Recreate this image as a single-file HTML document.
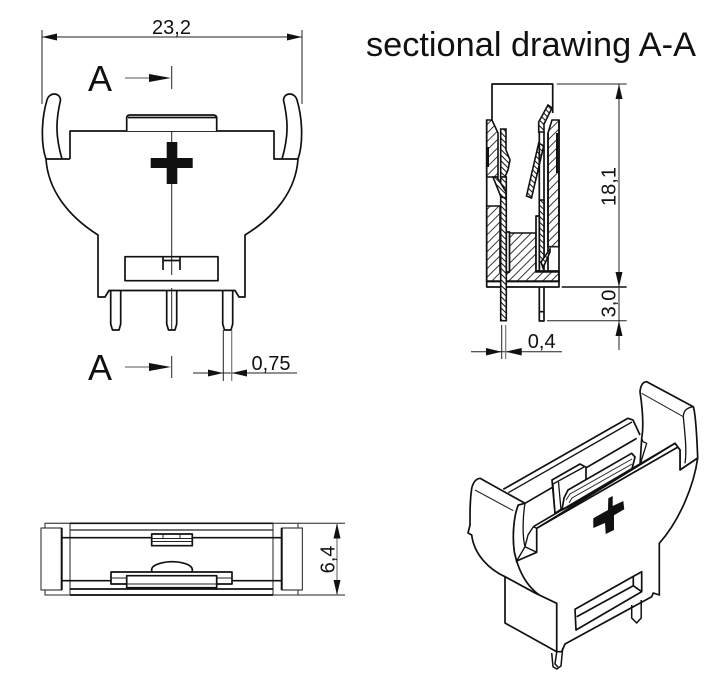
<!DOCTYPE html>
<html><head><meta charset="utf-8"><style>
html,body{margin:0;padding:0;background:#fff}
svg{display:block}
text{font-family:"Liberation Sans",sans-serif;fill:#111}
.m{fill:none;stroke:#111;stroke-width:1.7;stroke-linejoin:round}
.w{fill:#fff;stroke:#111;stroke-width:1.7;stroke-linejoin:round}
.t{fill:none;stroke:#222;stroke-width:1}
.g{fill:none;stroke:#777;stroke-width:1.2}
.h{fill:url(#hatch);stroke:#111;stroke-width:1.6}
.h2{fill:url(#hatch2);stroke:#111;stroke-width:1.6}
.a{fill:#111;stroke:none}
</style></head><body>
<svg width="722" height="687" viewBox="0 0 722 687" xmlns="http://www.w3.org/2000/svg">
<defs>
<pattern id="hatch" width="6" height="6" patternUnits="userSpaceOnUse" patternTransform="rotate(45)"><rect width="6" height="6" fill="#fff"/><line x1="0" y1="0" x2="0" y2="6" stroke="#222" stroke-width="1.8"/></pattern>
<pattern id="hatch2" width="4" height="4" patternUnits="userSpaceOnUse" patternTransform="rotate(-45)"><rect width="4" height="4" fill="#fff"/><line x1="0" y1="0" x2="0" y2="4" stroke="#111" stroke-width="2"/></pattern>
</defs>

<!-- FRONT VIEW -->
<path class="t" d="M42 30V104M302 30V104M42 37H302"/>
<path class="a" d="M42 37L57 33.5V40.5ZM302 37L287 33.5V40.5Z"/>
<text x="171.500" y="34" font-size="20" text-anchor="middle">23,2</text>
<text x="88" y="91" font-size="36">A</text>
<text x="88" y="380" font-size="36">A</text>
<path class="g" d="M125 78H150M125 367H150"/>
<path class="a" d="M171 78L149 74V82ZM171 367L149 363V371Z"/>
<path class="t" d="M171.700 66V89M171.700 115V275M171.700 288V330M171.700 356V378"/>
<path class="m" d="M70 159V131H274V159H298C296 190 276 216 245 235V297H239L235 290.500H109L105 297H98V235C68 216 48 190 46 159H70"/>
<path class="m" d="M46 159C41 145 41 120 47 100C49 92 60 92 60.500 100C56 120 55 135 62 159"/>
<path class="m" d="M298 159C303 145 303 120 297 100C295 92 284 92 283.500 100C288 120 289 135 282 159"/>
<path class="w" d="M126.700 131V118Q126.700 115 130 115H213Q216.700 115 216.700 118V131"/>
<path class="m" d="M128 117.500H216"/>
<path class="a" d="M166.700 142H177.300V158H192.700V168H177.300V184H166.700V168H150.700V158H166.700Z"/>
<rect class="m" x="125" y="256.700" width="93" height="24"/>
<path class="m" d="M163 270V257M180 270V257M163 260.500H180"/>
<path class="m" d="M110.700 291V324L112.500 330H119L120.700 324V291M166.700 291V324L168.500 330H175L176.700 324V291M222.700 291V324L224.500 330H231L232.700 324V291"/>
<path class="t" d="M223.300 330V381M193 373H297"/>
<path class="g" d="M231.700 330V381"/>
<path class="a" d="M223.300 373L208 369.500V376.500ZM231.700 373L247 369.500V376.500Z"/>
<text x="271" y="370" font-size="20" text-anchor="middle">0,75</text>

<!-- SECTION TITLE -->
<text x="366" y="56" font-size="34" textLength="330" lengthAdjust="spacingAndGlyphs">sectional drawing A-A</text>

<!-- SECTION VIEW -->
<path class="m" d="M492 120V84H552.700V113"/>
<path class="h" d="M486.700 120H492L498 133V177H486.700Z"/>
<path class="h" d="M486.700 206H500V272H509V233H536V272H559V281H486.700Z"/>
<path class="h" d="M552 120H559V246.700H548V133Z"/>
<path class="m" d="M486.700 120V287H559V120M486.700 281.500H559"/>
<path class="t" d="M548 246.700H559"/>
<path class="m" d="M488 147V167M557 133V173" style="stroke-width:2"/>
<path class="h2" d="M500.700 129H506V150L510 160L508 170L505 177H500.700Z"/>
<rect class="h2" x="500.700" y="177" width="5.600" height="143.700"/>
<path class="h2" d="M493 177H497L506 192V198L501 197Z"/>
<rect class="w" x="506.300" y="232" width="3.200" height="40"/>
<path class="h2" d="M538.700 122L548 105L552 108L544 124V132H538.700Z"/>
<path class="h2" d="M538.700 143L543.700 146L531.500 198L526.500 196Z"/>
<path class="m" d="M539.300 132V271M544 132V271M548 133V272"/>
<rect class="h2" x="539.300" y="200" width="4.700" height="62"/>
<rect class="w" x="536" y="216" width="3.300" height="55"/>
<path class="h2" d="M541 262L550 249V252L543 268Z"/>
<path class="m" d="M536 271H559"/>
<path class="m" d="M539.300 287V321H544V287M539.300 311.700H544"/>
<path class="t" d="M556.700 84H626.700M547 320.700H626.700M619 84V350"/>
<path d="M561.700 287H626.700" stroke="#333" stroke-width="1.800" fill="none"/>
<path class="a" d="M619 84L615.500 99H622.500ZM619 287L615.500 272H622.500ZM619 320.700L615.500 336H622.500Z"/>
<text transform="translate(615.500 186.500) rotate(-90)" font-size="20" text-anchor="middle">18,1</text>
<text transform="translate(615.500 303.500) rotate(-90)" font-size="20" text-anchor="middle">3,0</text>
<path class="t" d="M501.700 325V359M471 351.700H562"/>
<path class="g" d="M505.700 325V359"/>
<path class="a" d="M501.700 351.700L486 348V355.500ZM505.700 351.700L521.700 348V355.500Z"/>
<text x="541.700" y="348" font-size="20" text-anchor="middle">0,4</text>

<!-- BOTTOM VIEW -->
<path d="M45 523.300H298V595H45Z" fill="none" stroke="#555" stroke-width="1.300"/>
<path class="m" d="M70 523.300H273M70 595H273"/>
<path class="t" d="M70 523V595M273 523V595"/>
<path class="t" style="stroke-width:1.300" d="M70 530H273"/>
<path class="m" d="M61.700 537.700H281.700M61.700 580.700H112M232 580.700H281.700M70 589H273"/>
<rect class="w" x="41" y="528" width="20.700" height="62" style="stroke:#444;stroke-width:1.200"/>
<rect class="w" x="281.700" y="528" width="20.700" height="62" style="stroke:#444;stroke-width:1.200"/>
<path class="m" d="M61.700 528V590M281.700 528V590" style="stroke-width:2"/>
<rect class="w" x="151.700" y="534" width="40.600" height="11.700"/>
<path class="t" d="M151.700 538.500H192.300M163 534V538.500M180 534V538.500M151.700 541.500H192.300"/>
<path class="m" d="M151.700 574V569C153 564 165 561.700 172 561.700C180 561.700 191 564 192.300 569V574"/>
<rect class="w" x="111" y="572" width="121" height="12"/>
<rect class="w" x="126.700" y="575.700" width="90" height="12"/>
<path class="t" d="M126.700 584H216.700M111 578H126.700M216.700 578H232"/>
<path class="t" d="M298 523.300H345M298 595H345"/>
<path class="g" d="M337 523V595"/>
<path class="a" d="M337 523.300L333.500 538.500H340.500ZM337 595L333.500 580H340.500Z"/>
<text transform="translate(334.500 559.500) rotate(-90)" font-size="20" text-anchor="middle">6,4</text>

<!-- 3D VIEW -->
<!-- back wall -->
<path class="m" d="M503.300 489.300L628 418.300L633 420L640 435M525 503.300L636.700 438.300"/>
<path class="m" style="stroke-width:1.300" d="M508.300 492.700L632 422"/>
<!-- clips -->
<path class="w" d="M552 480L580 464L586 467.300V482L575 500L555 513.300Z"/>
<path class="m" style="stroke-width:1.300" d="M553 484L584 467M555 514L553 484M558.500 482L561 510"/>
<path class="w" d="M562 510L564 498L568 490L631.700 453.300L635 457L631.700 470L570 506Z"/>
<path class="t" d="M566 500L570 494L632 459M569 503L572 498L632 464"/>
<!-- right arm -->
<path class="w" d="M640 391.700Q641 382 646.700 381.700L693.300 406.700C696 415 697 440 697.700 458L680 470V450L675 443.300L640 465L641.700 438.300C644 425 642 405 640 391.700Z"/>
<path class="t" d="M641.700 393.300L683.300 416.700"/>
<path class="m" style="stroke-width:1.300" d="M693.300 406.700C686 408 683.500 411 683.300 416.700C685 435 687 450 685 463.300"/>
<path class="m" style="stroke-width:1.300" d="M641.700 438.300L643 441.700L646.700 443.300L640 465"/>
<!-- left arm -->
<path class="w" d="M471.700 488.300Q474 479 480 478.300L525 503.300L518.300 505C514 515 512 535 514.300 551.700L516.700 561.700L521.700 570C526 585 545 600 556.700 603.300L535 593L505 576.700C490 570 474 555 471.700 535L468 533L470 525C470 510 470 500 471.700 488.300Z"/>
<path class="t" d="M475 490L513.300 510.700"/>
<path class="m" style="stroke-width:1.300" d="M518.300 505C514 515 512 535 514.300 551.700L516.700 561.700"/>
<path class="m" style="stroke-width:1.300" d="M525 503.300C523 515 522 535 525 546.700"/>
<!-- front plate -->
<path class="w" d="M516.700 561L536.700 552.300V528.300L675 443.300L680 450V470L697.700 458C694 485 680 520 659.300 543.300V595L653.300 593L651.700 596.700L565 644L561.700 651.700H556.700V603.300C538 598 524 585 516.700 561Z"/>
<path class="m" d="M533.300 526.700L675 443.300M536.700 528.300L678 447"/>
<path class="m" style="stroke-width:1.400" d="M533.300 526.700L536.700 528.300M533.300 526.700L528 535L525 546.700L536.700 552.300M525 546.700L516.700 561"/>
<path class="w" d="M505 576.700L535 593L556.700 603.300V651.700L505 623Z"/>
<path class="m" d="M575 609.300L641.700 571.700V591.700L576 630ZM576.700 616.700L633.300 585.700V576.700M633.300 585.700L641.700 591.700"/>
<path class="a" d="M608.300 498.300L612.700 496V506L623.300 501L624.300 509.300L614 515.300V530L605.700 534L605 523L593.300 528V518.300L608 510Z"/>
<!-- pins -->
<path class="m" style="stroke-width:1.500" d="M551.700 653L553 666.700L556.700 669L561 666L562.700 648M556.700 652L555 664L558 667"/>
<path class="m" style="stroke-width:1.500" d="M631.700 605V618L636.700 623L641.200 618V600"/>
</svg>
</body></html>
